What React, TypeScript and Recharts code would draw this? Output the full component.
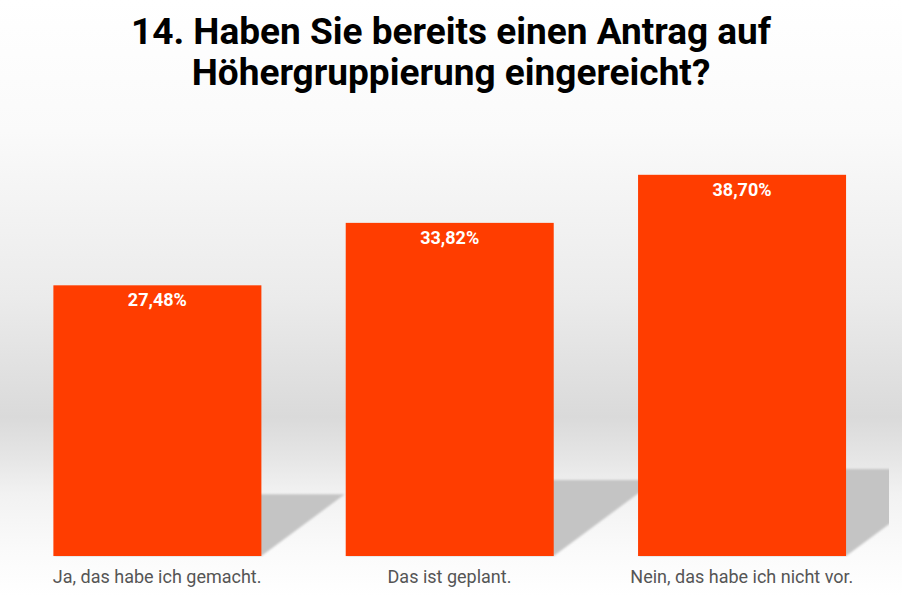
import { BarChart, Bar, XAxis, YAxis, LabelList } from "recharts";

const categories = ["Ja, das habe ich gemacht.", "Das ist geplant.", "Nein, das habe ich nicht vor."];
const shares = [27.48, 33.82, 38.7];
const shareLabels = ["27,48%", "33,82%", "38,70%"];

const chartData = categories.map((name, i) => ({ name, share: shares[i], label: shareLabels[i] }));

// bar with a slanted drop shadow to its right
function ShadowBar(props: any) {
    const { x, y, width, height } = props;
    const bottom = y + height;
    const sh = height * 0.228;
    const s = sh * 1.35;
    const pts = [
        [x, bottom],
        [x + width, bottom],
        [x + width + s, bottom - sh],
        [x + s, bottom - sh],
    ].map((p) => p.join(",")).join(" ");
    return (
        <g>
            <g clipPath="url(#plotClip)">
                <polygon points={pts} fill="#c4c4c4" filter="url(#shadowBlur)" />
            </g>
            <rect x={x} y={y} width={width} height={height} fill="#ff3d00" />
        </g>
    );
}

export default function App() {
    return (
        <div
            style={{
                position: "absolute",
                left: 0,
                top: 0,
                width: 902,
                height: 596,
                background:
                    "linear-gradient(to bottom, #ffffff 0%, #fafafa 22%, #ebebeb 50%, #dadada 70%, #e6e6e6 77%, #f2f2f2 83%, #fafafa 92%, #ffffff 100%)",
                fontFamily: "Roboto, sans-serif",
            }}
        >
            <svg width="0" height="0" style={{ position: "absolute" }}>
                <defs>
                    <filter id="shadowBlur" x="-10%" y="-10%" width="120%" height="120%">
                        <feGaussianBlur stdDeviation="1.2" />
                    </filter>
                    <clipPath id="plotClip">
                        <rect x="0" y="0" width="889" height="557" />
                    </clipPath>
                </defs>
            </svg>
            <div
                style={{
                    position: "absolute",
                    top: 11,
                    left: 0,
                    width: 902,
                    textAlign: "center",
                    fontSize: 37,
                    fontWeight: 700,
                    lineHeight: "41px",
                    color: "#000",
                }}
            >
                14. Haben Sie bereits einen Antrag auf
                <br />
                Höhergruppierung eingereicht?
            </div>
            <BarChart
                width={902}
                height={596}
                data={chartData}
                margin={{ top: 162, right: 14, bottom: 0, left: 11 }}
                barCategoryGap="14.5%"
            >
                <XAxis
                    dataKey="name"
                    axisLine={false}
                    tickLine={false}
                    height={40}
                    interval={0}
                    tick={{ fill: "#555555", fontSize: 18, fontFamily: "Roboto, sans-serif" }}
                    tickMargin={8}
                />
                <YAxis hide domain={[0, 40]} />
                <Bar dataKey="share" shape={ShadowBar} isAnimationActive={false}>
                    <LabelList
                        dataKey="label"
                        position="insideTop"
                        offset={8}
                        fill="#ffffff"
                        fontSize={18}
                        fontWeight={700}
                        fontFamily="Roboto, sans-serif"
                    />
                </Bar>
            </BarChart>
        </div>
    );
}
